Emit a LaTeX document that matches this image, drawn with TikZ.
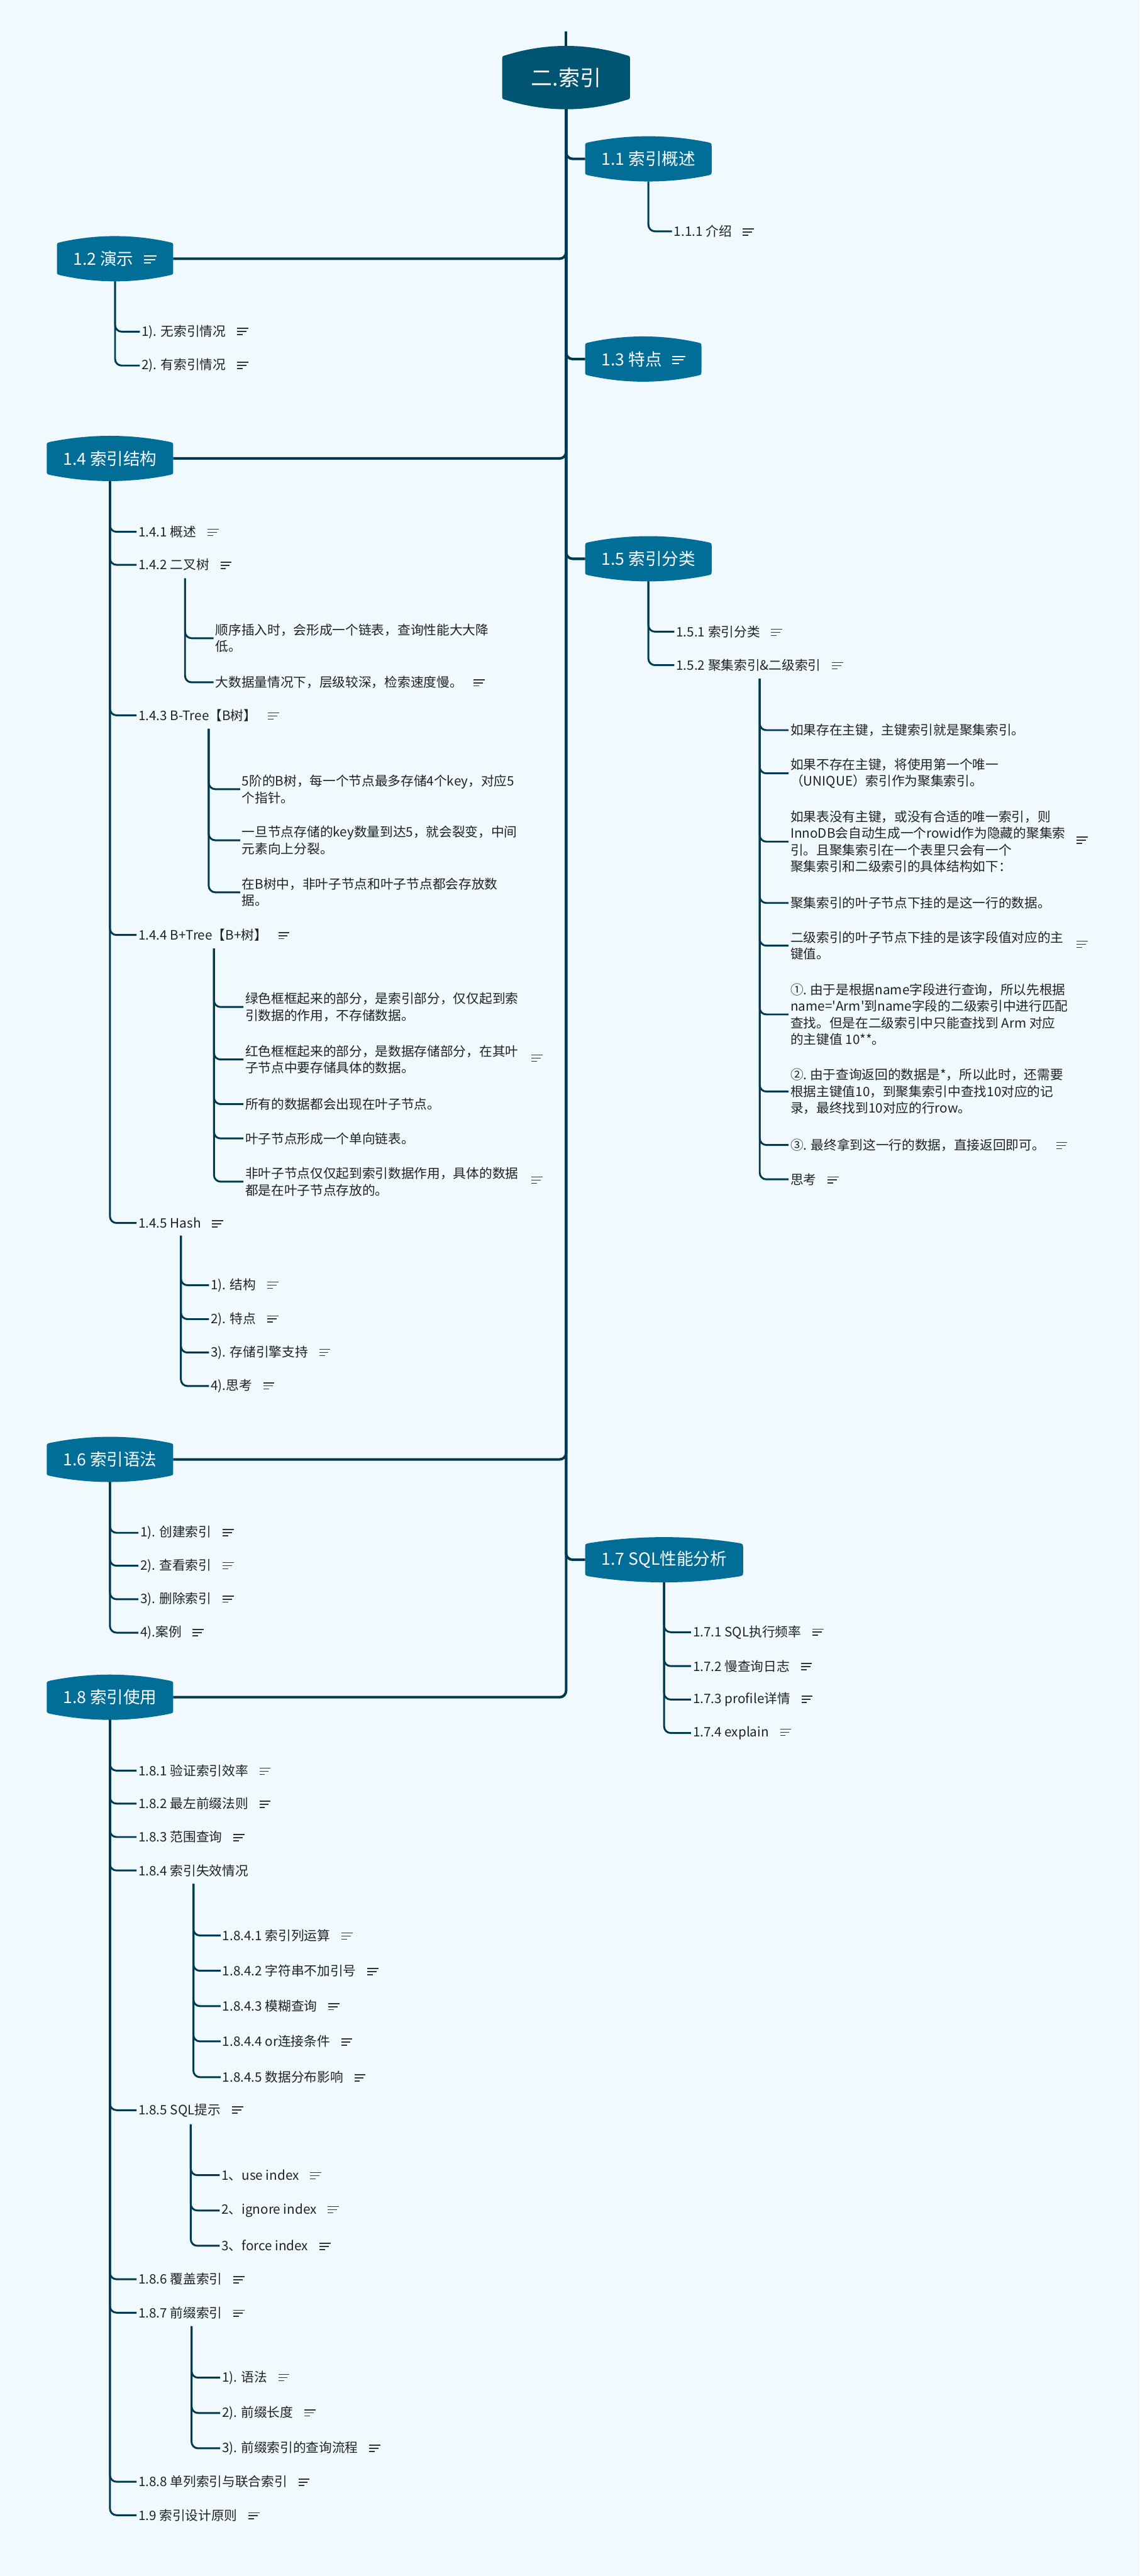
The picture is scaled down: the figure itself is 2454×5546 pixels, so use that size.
\documentclass[tikz,border=0pt]{standalone}
\usepackage{fontspec}
\setmainfont{Noto Sans CJK SC}
\usetikzlibrary{calc}
\pgfdeclarelayer{bglayer}
\pgfdeclarelayer{background}
\pgfsetlayers{bglayer,background,main}
\definecolor{bgc}{HTML}{EFF9FE}
\definecolor{rootc}{HTML}{005573}
\definecolor{mainc}{HTML}{006E97}
\definecolor{linec}{HTML}{003A50}
\definecolor{textc}{HTML}{222222}
\definecolor{iconc}{HTML}{333333}

\newcommand\noteicon{\hspace{24pt}{\color{iconc}\raisebox{1.5pt}{\vbox{\hrule width 24pt height 2.2pt\vskip 4.5pt\hrule width 20pt height 2.2pt\vskip 4.5pt\hrule width 12pt height 2.2pt}}}}
\newcommand\bignote{\hspace{22pt}{\color{white}\raisebox{3pt}{\vbox{\hrule width 28pt height 2.6pt\vskip 5pt\hrule width 24pt height 2.6pt\vskip 5pt\hrule width 15pt height 2.6pt}}}}
\newcommand\boxtext[1]{\parbox[c]{592pt}{\raggedright #1}}

\newcommand\hexfill[3]{%
\begin{pgfonlayer}{background}
\fill[#2] let \p1=(#1.north west), \p2=(#1.south east), \n1={(\x2-\x1-16pt)/3} in
 (\x1,{\y1-#3pt-8pt}) -- (\x1,{\y2+#3pt+8pt})
 .. controls (\x1,{\y2+#3pt}) .. ({\x1+8pt},{\y2+#3pt-2pt})
 .. controls ({\x1+8pt+\n1*1pt},{\y2+#3pt-2pt-(#3-2)*4/3*1pt}) and ({\x2-8pt-\n1*1pt},{\y2+#3pt-2pt-(#3-2)*4/3*1pt}) .. ({\x2-8pt},{\y2+#3pt-2pt})
 .. controls (\x2,{\y2+#3pt}) .. (\x2,{\y2+#3pt+8pt})
 -- (\x2,{\y1-#3pt-8pt})
 .. controls (\x2,{\y1-#3pt}) .. ({\x2-8pt},{\y1-#3pt+2pt})
 .. controls ({\x2-8pt-\n1*1pt},{\y1-#3pt+2pt+(#3-2)*4/3*1pt}) and ({\x1+8pt+\n1*1pt},{\y1-#3pt+2pt+(#3-2)*4/3*1pt}) .. ({\x1+8pt},{\y1-#3pt+2pt})
 .. controls (\x1,{\y1-#3pt}) .. (\x1,{\y1-#3pt-8pt}) -- cycle;
\end{pgfonlayer}}

\tikzset{
  rootbox/.style={font=\fontsize{46}{50}\selectfont, text=white, minimum height=136pt, inner xsep=62pt, inner ysep=0pt},
  mainbox/.style={font=\fontsize{36}{40}\selectfont, text=white, minimum height=97pt, inner xsep=35pt, inner ysep=0pt},
  leaf/.style={font=\fontsize{28}{36}\selectfont, text=textc, inner xsep=4pt, inner ysep=2pt, anchor=west},
  conn0/.style={draw=linec, line width=5.5pt, rounded corners=14pt, line join=round},
  conn1/.style={draw=linec, line width=4pt, rounded corners=14pt, line join=round}
}

\begin{document}
\begin{tikzpicture}[x=1pt,y=-1pt]
\useasboundingbox (0,0) rectangle (2454,5546);
\begin{pgfonlayer}{bglayer}
\fill[bgc] (0,0) rectangle (2454,5546);
\end{pgfonlayer}

% root and main branches
\node[rootbox] (root) at (1219,167) {二.索引};
\hexfill{root}{rootc}{22}
\node[mainbox, anchor=west] (b11) at (1260,342) {1.1 索引概述};
\hexfill{b11}{mainc}{15}
\node[mainbox, anchor=east] (b12) at (373,557) {1.2 演示\bignote};
\hexfill{b12}{mainc}{15}
\node[mainbox, anchor=west] (b13) at (1260,773) {1.3 特点\bignote};
\hexfill{b13}{mainc}{15}
\node[mainbox, anchor=east] (b14) at (373,987) {1.4 索引结构};
\hexfill{b14}{mainc}{15}
\node[mainbox, anchor=west] (b15) at (1260,1203) {1.5 索引分类};
\hexfill{b15}{mainc}{15}
\node[mainbox, anchor=east] (b16) at (373,3142) {1.6 索引语法};
\hexfill{b16}{mainc}{15}
\node[mainbox, anchor=west] (b17) at (1260,3358) {1.7 SQL性能分析};
\hexfill{b17}{mainc}{15}
\node[mainbox, anchor=east] (b18) at (373,3654) {1.8 索引使用};
\hexfill{b18}{mainc}{15}

\coordinate (top) at (1219,68);
\draw[conn0] (top) -- (root.north);
\foreach \b in {b11,b13,b15,b17} \draw[conn0] (root.south) |- (\b.west);
\foreach \b in {b12,b14,b16,b18} \draw[conn0] (root.south) |- (\b.east);

% 1.1
\node[leaf] (n111) at (1447,498) {1.1.1 介绍\noteicon};
\draw[conn1] (b11.south) |- (n111.west);

% 1.2
\node[leaf] (n121) at (301,714) {1). 无索引情况\noteicon};
\node[leaf] (n122) at (301,787) {2). 有索引情况\noteicon};
\foreach \c in {n121,n122} \draw[conn1] (b12.south) |- (\c.west);

% 1.4
\node[leaf] (n141) at (294,1145) {1.4.1 概述\noteicon};
\node[leaf] (n142) at (294,1216) {1.4.2 二叉树\noteicon};
\node[leaf] (n1421) at (460,1374) {\boxtext{顺序插入时，会形成一个链表，查询性能大大降\\低。}};
\node[leaf] (n1422) at (460,1469) {大数据量情况下，层级较深，检索速度慢。\noteicon};
\node[leaf] (n143) at (294,1540) {1.4.3 B-Tree【B树】\noteicon};
\node[leaf] (n1431) at (517,1699) {\boxtext{5阶的B树，每一个节点最多存储4个key，对应5\\个指针。}};
\node[leaf] (n1432) at (517,1809) {\boxtext{一旦节点存储的key数量到达5，就会裂变，中间\\元素向上分裂。}};
\node[leaf] (n1433) at (517,1921) {\boxtext{在B树中，非叶子节点和叶子节点都会存放数\\据。}};
\node[leaf] (n144) at (294,2013) {1.4.4 B+Tree【B+树】\noteicon};
\node[leaf] (n1441) at (524,2168) {\boxtext{绿色框框起来的部分，是索引部分，仅仅起到索\\引数据的作用，不存储数据。}};
\node[leaf] (n1442) at (524,2281) {\boxtext{红色框框起来的部分，是数据存储部分，在其叶\\子节点中要存储具体的数据。}\noteicon};
\node[leaf] (n1443) at (524,2377) {所有的数据都会出现在叶子节点。};
\node[leaf] (n1444) at (524,2451) {叶子节点形成一个单向链表。};
\node[leaf] (n1445) at (524,2544) {\boxtext{非叶子节点仅仅起到索引数据作用，具体的数据\\都是在叶子节点存放的。}\noteicon};
\node[leaf] (n145) at (294,2633) {1.4.5 Hash\noteicon};
\node[leaf] (n1451) at (450,2767) {1). 结构\noteicon};
\node[leaf] (n1452) at (450,2840) {2). 特点\noteicon};
\node[leaf] (n1453) at (450,2912) {3). 存储引擎支持\noteicon};
\node[leaf] (n1454) at (450,2984) {4).思考\noteicon};
\foreach \c in {n141,n142,n143,n144,n145} \draw[conn1] (b14.south) |- (\c.west);
\foreach \c in {n1421,n1422} \draw[conn1] ([yshift=-14pt]n142.south) |- (\c.west);
\foreach \c in {n1431,n1432,n1433} \draw[conn1] ([yshift=-14pt]n143.south) |- (\c.west);
\foreach \c in {n1441,n1442,n1443,n1444,n1445} \draw[conn1] ([yshift=-14pt]n144.south) |- (\c.west);
\foreach \c in {n1451,n1452,n1453,n1454} \draw[conn1] ([yshift=-14pt]n145.south) |- (\c.west);

% 1.5
\node[leaf] (n151) at (1452,1360) {1.5.1 索引分类\noteicon};
\node[leaf] (n152) at (1452,1432) {1.5.2 聚集索引\&二级索引\noteicon};
\node[leaf] (n1521) at (1698,1572) {如果存在主键，主键索引就是聚集索引。};
\node[leaf] (n1522) at (1698,1665) {\boxtext{如果不存在主键，将使用第一个唯一\\（UNIQUE）索引作为聚集索引。}};
\node[leaf] (n1523) at (1698,1812) {\boxtext{如果表没有主键，或没有合适的唯一索引，则\\InnoDB会自动生成一个rowid作为隐藏的聚集索\\引。且聚集索引在一个表里只会有一个\\聚集索引和二级索引的具体结构如下：}\noteicon};
\node[leaf] (n1524) at (1698,1944) {聚集索引的叶子节点下挂的是这一行的数据。};
\node[leaf] (n1525) at (1698,2036) {\boxtext{二级索引的叶子节点下挂的是该字段值对应的主\\键值。}\noteicon};
\node[leaf] (n1526) at (1698,2184) {\boxtext{\mbox{①.~由于是根据name字段进行查询，所以先根据}\\name=\textquotesingle Arm\textquotesingle 到name字段的二级索引中进行匹配\\\mbox{查找。但是在二级索引中只能查找到~Arm~对应}\\\mbox{的主键值~10**。}}};
\node[leaf] (n1527) at (1698,2350) {\boxtext{\mbox{②.~由于查询返回的数据是*，所以此时，还需要}\\根据主键值10，到聚集索引中查找10对应的记\\录，最终找到10对应的行row。}};
\node[leaf] (n1528) at (1698,2465) {③. 最终拿到这一行的数据，直接返回即可。\noteicon};
\node[leaf] (n1529) at (1698,2539) {思考\noteicon};
\foreach \c in {n151,n152} \draw[conn1] (b15.south) |- (\c.west);
\foreach \c in {n1521,n1522,n1523,n1524,n1525,n1526,n1527,n1528,n1529} \draw[conn1] ([yshift=-14pt]n152.south) |- (\c.west);

% 1.6
\node[leaf] (n161) at (298,3300) {1). 创建索引\noteicon};
\node[leaf] (n162) at (298,3371) {2). 查看索引\noteicon};
\node[leaf] (n163) at (298,3443) {3). 删除索引\noteicon};
\node[leaf] (n164) at (298,3515) {4).案例\noteicon};
\foreach \c in {n161,n162,n163,n164} \draw[conn1] (b16.south) |- (\c.west);

% 1.7
\node[leaf] (n171) at (1488,3514) {1.7.1 SQL执行频率\noteicon};
\node[leaf] (n172) at (1488,3587) {1.7.2 慢查询日志\noteicon};
\node[leaf] (n173) at (1488,3659) {1.7.3 profile详情\noteicon};
\node[leaf] (n174) at (1488,3731) {1.7.4 explain\noteicon};
\foreach \c in {n171,n172,n173,n174} \draw[conn1] (b17.south) |- (\c.west);

% 1.8
\node[leaf] (n181) at (294,3812) {1.8.1 验证索引效率\noteicon};
\node[leaf] (n182) at (294,3883) {1.8.2 最左前缀法则\noteicon};
\node[leaf] (n183) at (294,3955) {1.8.3 范围查询\noteicon};
\node[leaf] (n184) at (294,4027) {1.8.4 索引失效情况};
\node[leaf] (n1841) at (475,4167) {1.8.4.1 索引列运算\noteicon};
\node[leaf] (n1842) at (475,4243) {1.8.4.2 字符串不加引号\noteicon};
\node[leaf] (n1843) at (475,4319) {1.8.4.3 模糊查询\noteicon};
\node[leaf] (n1844) at (475,4395) {1.8.4.4 or连接条件\noteicon};
\node[leaf] (n1845) at (475,4472) {1.8.4.5 数据分布影响\noteicon};
\node[leaf] (n185) at (294,4543) {1.8.5 SQL提示\noteicon};
\node[leaf] (n1851) at (473,4683) {1、use index\noteicon};
\node[leaf] (n1852) at (473,4759) {2、ignore index\noteicon};
\node[leaf] (n1853) at (473,4835) {3、force index\noteicon};
\node[leaf] (n186) at (294,4907) {1.8.6 覆盖索引\noteicon};
\node[leaf] (n187) at (294,4979) {1.8.7 前缀索引\noteicon};
\node[leaf] (n1871) at (474,5119) {1). 语法\noteicon};
\node[leaf] (n1872) at (474,5195) {2). 前缀长度\noteicon};
\node[leaf] (n1873) at (474,5271) {3). 前缀索引的查询流程\noteicon};
\node[leaf] (n188) at (294,5343) {1.8.8 单列索引与联合索引\noteicon};
\node[leaf] (n19) at (294,5415) {1.9 索引设计原则\noteicon};
\foreach \c in {n181,n182,n183,n184,n185,n186,n187,n188,n19} \draw[conn1] (b18.south) |- (\c.west);
\foreach \c in {n1841,n1842,n1843,n1844,n1845} \draw[conn1] ([yshift=-14pt]n184.south) |- (\c.west);
\foreach \c in {n1851,n1852,n1853} \draw[conn1] ([yshift=-14pt]n185.south) |- (\c.west);
\foreach \c in {n1871,n1872,n1873} \draw[conn1] ([yshift=-14pt]n187.south) |- (\c.west);
\end{tikzpicture}
\end{document}
